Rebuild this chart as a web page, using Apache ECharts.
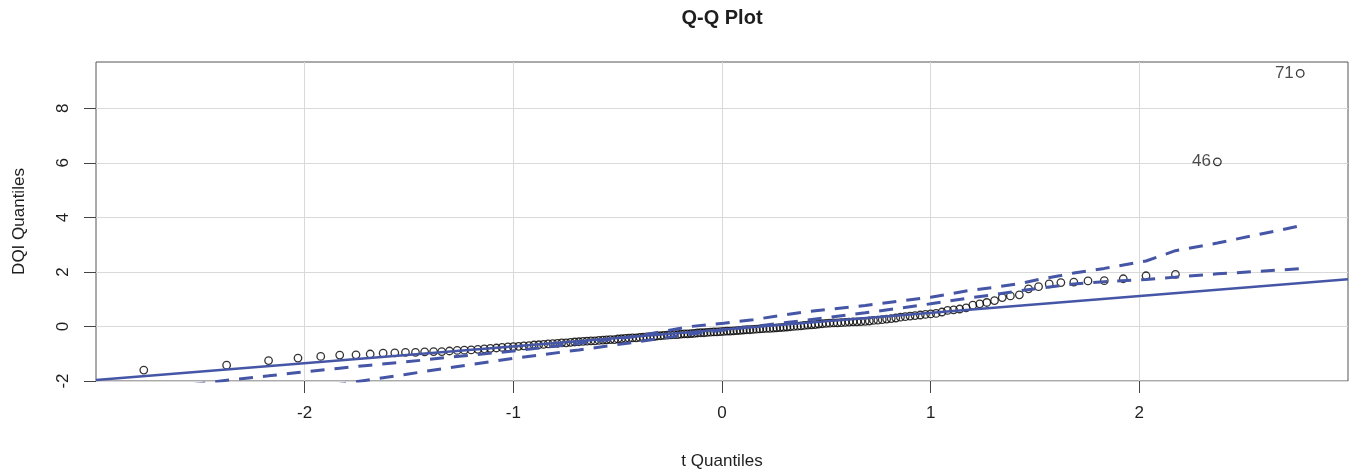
<!DOCTYPE html>
<html>
<head>
<meta charset="utf-8">
<title>Q-Q Plot</title>
<script src="https://cdn.jsdelivr.net/npm/echarts@6/dist/echarts.min.js"></script>
<style>
  html, body { margin: 0; padding: 0; background: #ffffff; }
  #chart { width: 1353px; height: 475px; }
</style>
</head>
<body>
<div id="chart"></div>
<script>
// Theoretical t quantiles (x) and the sorted DQI values (y), one pair per observation
const tQuantiles = [
  -2.771, -2.374, -2.173, -2.032, -1.923, -1.832, -1.754, -1.686, -1.624, -1.568,
  -1.517, -1.469, -1.425, -1.382, -1.343, -1.306, -1.269, -1.235, -1.202, -1.170,
  -1.139, -1.110, -1.081, -1.054, -1.026, -1.000, -0.975, -0.950, -0.925, -0.901,
  -0.878, -0.855, -0.833, -0.811, -0.789, -0.768, -0.747, -0.726, -0.706, -0.686,
  -0.666, -0.647, -0.628, -0.609, -0.590, -0.571, -0.553, -0.535, -0.516, -0.499,
  -0.481, -0.463, -0.446, -0.429, -0.411, -0.394, -0.378, -0.361, -0.344, -0.327,
  -0.311, -0.294, -0.278, -0.262, -0.246, -0.229, -0.213, -0.197, -0.181, -0.165,
  -0.149, -0.134, -0.118, -0.102, -0.086, -0.071, -0.055, -0.039, -0.024, -0.008,
   0.008,  0.024,  0.039,  0.055,  0.071,  0.086,  0.102,  0.118,  0.134,  0.149,
   0.165,  0.181,  0.197,  0.213,  0.229,  0.246,  0.262,  0.278,  0.294,  0.311,
   0.327,  0.344,  0.361,  0.378,  0.394,  0.411,  0.429,  0.446,  0.463,  0.481,
   0.499,  0.516,  0.535,  0.553,  0.571,  0.590,  0.609,  0.628,  0.647,  0.666,
   0.686,  0.706,  0.726,  0.747,  0.768,  0.789,  0.811,  0.833,  0.855,  0.878,
   0.901,  0.925,  0.950,  0.975,  1.000,  1.026,  1.054,  1.081,  1.110,  1.139,
   1.170,  1.202,  1.235,  1.269,  1.306,  1.343,  1.382,  1.425,  1.469,  1.517,
   1.568,  1.624,  1.686,  1.754,  1.832,  1.923,  2.032,  2.173,  2.374,  2.771
];
const dqiQuantiles = [
  -1.60, -1.42, -1.25, -1.16, -1.10, -1.05, -1.04, -1.01, -0.98, -0.97,
  -0.95, -0.95, -0.93, -0.92, -0.92, -0.90, -0.88, -0.87, -0.86, -0.84,
  -0.82, -0.80, -0.79, -0.77, -0.75, -0.74, -0.73, -0.71, -0.70, -0.68,
  -0.67, -0.66, -0.64, -0.63, -0.62, -0.60, -0.60, -0.58, -0.57, -0.56,
  -0.55, -0.54, -0.53, -0.53, -0.51, -0.50, -0.49, -0.48, -0.48, -0.46,
  -0.45, -0.44, -0.43, -0.42, -0.42, -0.40, -0.39, -0.38, -0.37, -0.37,
  -0.35, -0.34, -0.33, -0.32, -0.31, -0.30, -0.30, -0.28, -0.27, -0.27,
  -0.26, -0.25, -0.24, -0.23, -0.23, -0.22, -0.21, -0.20, -0.20, -0.19,
  -0.18, -0.17, -0.17, -0.16, -0.15, -0.14, -0.13, -0.12, -0.12, -0.11,
  -0.10, -0.09, -0.08, -0.07, -0.07, -0.06, -0.05, -0.04, -0.03, -0.02,
  -0.01,  0.00,  0.01,  0.02,  0.04,  0.05,  0.06,  0.07,  0.09,  0.10,
   0.11,  0.12,  0.13,  0.13,  0.14,  0.15,  0.16,  0.17,  0.17,  0.18,
   0.19,  0.20,  0.22,  0.23,  0.25,  0.27,  0.29,  0.31,  0.34,  0.36,
   0.38,  0.40,  0.42,  0.44,  0.46,  0.48,  0.53,  0.59,  0.61,  0.64,
   0.68,  0.78,  0.83,  0.88,  0.95,  1.06,  1.12,  1.16,  1.38,  1.46,
   1.56,  1.61,  1.63,  1.67,  1.68,  1.75,  1.86,  1.91,  6.04,  9.28
];

// Observations identified on the plot: rank in the sorted sample and their id
const labelRanks = [159, 160];
const labelIds = ['46', '71'];

// Pointwise confidence envelope
const envX = [
  -2.771, -2.374, -2.173, -2.032, -1.832, -1.686, -1.517, -1.306, -1.000, -0.686,
  -0.411, -0.149,  0.008,  0.149,  0.411,  0.686,  1.000,  1.170,  1.306,  1.425,
   1.517,  1.624,  1.686,  1.832,  2.032,  2.173,  2.374,  2.771
];
const envUpper = [
  -2.36, -1.97, -1.81, -1.69, -1.53, -1.42, -1.30, -1.13, -0.90, -0.62,
  -0.36,  0.00,  0.12,  0.25,  0.55,  0.77,  1.07,  1.30,  1.44,  1.57,
   1.72,  1.87,  1.96,  2.13,  2.40,  2.78,  3.06,  3.69
];
const envLower = [
  -3.50, -2.85, -2.58, -2.38, -2.12, -1.95, -1.76, -1.51, -1.17, -0.86,
  -0.57, -0.28, -0.13,  0.00,  0.24,  0.50,  0.83,  1.03,  1.17,  1.31,
   1.40,  1.50,  1.56,  1.64,  1.72,  1.81,  1.93,  2.12
];

// Robust reference line through the quartiles
const lineIntercept = -0.115;
const lineSlope = 0.615;

// Axis ticks
const xTicks = [-2, -1, 0, 1, 2];
const yTicks = [-2, 0, 2, 4, 6, 8];

const X_MIN = -3, X_MAX = 3, Y_MIN = -2, Y_MAX = 9.7;
const FONT = '"Liberation Sans", Arial, Helvetica, sans-serif';
const INK = '#1e1e1e';
const BLUE = '#4656a6';

const pointData = tQuantiles.map((x, k) => {
  const item = { value: [x, dqiQuantiles[k]] };
  const li = labelRanks.indexOf(k + 1);
  if (li >= 0) {
    item.label = { show: true, formatter: labelIds[li] };
  }
  return item;
});

const chart = echarts.init(document.getElementById('chart'), null, { renderer: 'canvas' });

chart.setOption({
  animation: false,
  backgroundColor: '#ffffff',
  textStyle: { fontFamily: FONT },
  title: {
    text: 'Q-Q Plot',
    left: 722,
    top: 8,
    padding: 0,
    textAlign: 'center',
    textStyle: { fontFamily: FONT, fontSize: 20, fontWeight: 'bold', color: INK }
  },
  grid: {
    left: 96, right: 5, top: 62, bottom: 94,
    containLabel: false,
    outerBoundsMode: 'none',
    show: true,
    borderColor: '#555555',
    borderWidth: 1,
    backgroundColor: 'transparent'
  },
  xAxis: {
    type: 'value',
    min: X_MIN, max: X_MAX, interval: 1,
    name: 't Quantiles',
    nameLocation: 'middle',
    nameGap: 72,
    nameTextStyle: { fontFamily: FONT, fontSize: 17, color: INK },
    axisLine: { show: false, onZero: false },
    axisTick: { show: true, length: 12, customValues: xTicks, lineStyle: { color: '#444', width: 1 } },
    axisLabel: { customValues: xTicks, margin: 24, fontFamily: FONT, fontSize: 17, color: INK },
    splitLine: { show: true, lineStyle: { color: '#d9d9d9', width: 1 } }
  },
  yAxis: {
    type: 'value',
    min: Y_MIN, max: Y_MAX, interval: 2,
    name: 'DQI Quantiles',
    nameLocation: 'middle',
    nameRotate: 90,
    nameGap: 68,
    nameTextStyle: { fontFamily: FONT, fontSize: 17, color: INK },
    axisLine: { show: false, onZero: false },
    axisTick: { show: true, length: 12, customValues: yTicks, lineStyle: { color: '#444', width: 1 } },
    axisLabel: { customValues: yTicks, rotate: 90, margin: 24, fontFamily: FONT, fontSize: 17, color: INK },
    splitLine: { show: true, lineStyle: { color: '#d9d9d9', width: 1 } }
  },
  series: [
    {
      name: 'DQI',
      type: 'scatter',
      data: pointData,
      symbol: 'circle',
      symbolSize: 7.5,
      itemStyle: { color: 'rgba(255,255,255,0)', borderColor: '#000000', borderWidth: 1.3 },
      label: {
        show: false,
        position: 'left',
        distance: 2,
        fontFamily: FONT,
        fontSize: 17,
        color: INK
      },
      emphasis: { disabled: true },
      silent: true,
      z: 2
    },
    {
      name: 'reference',
      type: 'line',
      data: [[X_MIN, lineIntercept + lineSlope * X_MIN], [X_MAX, lineIntercept + lineSlope * X_MAX]],
      showSymbol: false,
      clip: true,
      lineStyle: { color: BLUE, width: 2.5, type: 'solid' },
      silent: true,
      z: 3
    },
    {
      name: 'upper',
      type: 'line',
      data: envX.map((x, k) => [x, envUpper[k]]),
      showSymbol: false,
      clip: true,
      lineStyle: { color: BLUE, width: 3, type: [14, 10] },
      silent: true,
      z: 3
    },
    {
      name: 'lower',
      type: 'line',
      data: envX.map((x, k) => [x, envLower[k]]),
      showSymbol: false,
      clip: true,
      lineStyle: { color: BLUE, width: 3, type: [14, 10] },
      silent: true,
      z: 3
    }
  ]
});
</script>
</body>
</html>
